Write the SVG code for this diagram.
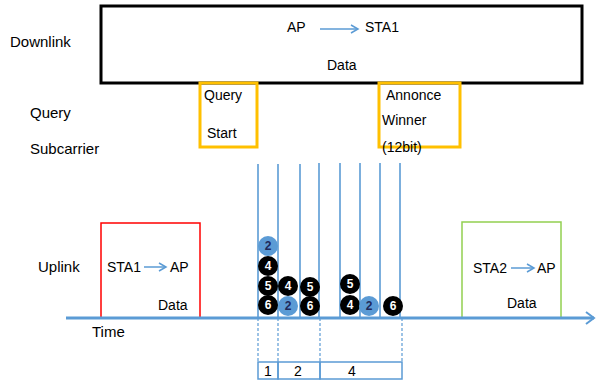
<svg xmlns="http://www.w3.org/2000/svg" width="597" height="381" viewBox="0 0 597 381">
<style>
text{font-family:"Liberation Sans",Arial,sans-serif;font-size:14px;fill:#000}
.lbl{font-size:15px}
.vl{stroke:#5b9bd5;stroke-width:1.6;fill:none}
.dl{stroke:#5b9bd5;stroke-width:1.2;stroke-dasharray:3,2;fill:none}
.ar{stroke:#5b9bd5;stroke-width:1.5;fill:none}
.bk{fill:#000}
.bl{fill:#5b9bd5}
.nw{fill:#fff;font-size:12px;font-weight:bold;text-anchor:middle}
.nb{fill:#1f2a5a;font-size:12px;font-weight:bold;text-anchor:middle}
</style>
<defs>
<marker id="chev" markerWidth="10" markerHeight="10" refX="8" refY="5" orient="auto" markerUnits="userSpaceOnUse">
<path d="M1,1 L8,5 L1,9" fill="none" stroke="#5b9bd5" stroke-width="1.5"/>
</marker>
<marker id="chevT" markerWidth="12" markerHeight="14" refX="10" refY="7" orient="auto" markerUnits="userSpaceOnUse">
<path d="M2,1 L10,7 L2,13" fill="none" stroke="#5b9bd5" stroke-width="2"/>
</marker>
</defs>
<text x="10" y="47" class="lbl">Downlink</text>
<text x="30" y="118" class="lbl">Query</text>
<text x="30" y="154" class="lbl">Subcarrier</text>
<text x="38" y="272" class="lbl">Uplink</text>
<text x="92" y="337" class="lbl">Time</text>
<g id="downlink">
<rect x="101" y="6" width="481" height="77" fill="#fff" stroke="#000" stroke-width="3"/>
<text x="287" y="32">AP</text>
<text x="365" y="32">STA1</text>
<text x="327" y="70">Data</text>
</g>
<g id="query-start">
<rect x="200" y="83" width="57" height="64" fill="none" stroke="#ffc000" stroke-width="3"/>
<text x="204" y="100">Query</text>
<text x="207" y="138">Start</text>
</g>
<g id="announce-winner">
<rect x="379" y="83" width="81" height="64" fill="none" stroke="#ffc000" stroke-width="3"/>
<text x="386" y="100">Annonce</text>
<text x="382" y="125">Winner</text>
<text x="382" y="152">(12bit)</text>
</g>
<g id="sta1">
<rect x="101" y="223" width="99" height="95" fill="none" stroke="#ff0000" stroke-width="1.5"/>
<text x="107" y="272">STA1</text>
<text x="170" y="272">AP</text>
<text x="158" y="310">Data</text>
</g>
<g id="sta2">
<rect x="462" y="222" width="99" height="96" fill="none" stroke="#92d050" stroke-width="1.5"/>
<text x="473" y="273">STA2</text>
<text x="537" y="273">AP</text>
<text x="507" y="308">Data</text>
</g>
<g id="connectors">
<line x1="320" y1="29" x2="358" y2="29" class="ar" marker-end="url(#chev)"/>
<line x1="144" y1="267" x2="166" y2="267" class="ar" marker-end="url(#chev)"/>
<line x1="511" y1="268" x2="534" y2="268" class="ar" marker-end="url(#chev)"/>
<line x1="258" y1="164" x2="258" y2="318" class="vl"/>
<line x1="278" y1="164" x2="278" y2="318" class="vl"/>
<line x1="300" y1="164" x2="300" y2="318" class="vl"/>
<line x1="319" y1="163" x2="319" y2="318" class="vl"/>
<line x1="340" y1="163" x2="340" y2="318" class="vl"/>
<line x1="360" y1="163" x2="360" y2="318" class="vl"/>
<line x1="380" y1="163" x2="380" y2="318" class="vl"/>
<line x1="400" y1="163" x2="400" y2="318" class="vl"/>
<line x1="258" y1="318" x2="258" y2="362" class="dl"/>
<line x1="278" y1="318" x2="278" y2="362" class="dl"/>
<line x1="320" y1="318" x2="320" y2="362" class="dl"/>
<line x1="402" y1="318" x2="402" y2="362" class="dl"/>
<line x1="66" y1="318" x2="594" y2="318" stroke="#5b9bd5" stroke-width="3" marker-end="url(#chevT)"/>
</g>
<g id="slots">
<rect x="258" y="362" width="20" height="17" fill="none" stroke="#5b9bd5" stroke-width="1.5"/>
<rect x="278" y="362" width="42" height="17" fill="none" stroke="#5b9bd5" stroke-width="1.5"/>
<rect x="320" y="362" width="82" height="17" fill="none" stroke="#5b9bd5" stroke-width="1.5"/>
<text x="268" y="376" text-anchor="middle">1</text>
<text x="298" y="376" text-anchor="middle">2</text>
<text x="352" y="376" text-anchor="middle">4</text>
</g>
<g id="tokens">
<circle cx="268" cy="246" r="10" class="bl"/><text x="268" y="250" class="nb">2</text>
<circle cx="268" cy="266" r="10" class="bk"/><text x="268" y="270" class="nw">4</text>
<circle cx="268" cy="286" r="10" class="bk"/><text x="268" y="290" class="nw">5</text>
<circle cx="268" cy="305" r="10" class="bk"/><text x="268" y="309" class="nw">6</text>
<circle cx="288" cy="286" r="10" class="bk"/><text x="288" y="290" class="nw">4</text>
<circle cx="288" cy="306" r="10" class="bl"/><text x="288" y="310" class="nb">2</text>
<circle cx="310" cy="287" r="10" class="bk"/><text x="310" y="291" class="nw">5</text>
<circle cx="310" cy="306" r="10" class="bk"/><text x="310" y="310" class="nw">6</text>
<circle cx="350" cy="284" r="10" class="bk"/><text x="350" y="288" class="nw">5</text>
<circle cx="350" cy="305" r="10" class="bk"/><text x="350" y="309" class="nw">4</text>
<circle cx="369" cy="306" r="10" class="bl"/><text x="369" y="310" class="nb">2</text>
<circle cx="393" cy="306" r="10" class="bk"/><text x="393" y="310" class="nw">6</text>
</g>
</svg>
